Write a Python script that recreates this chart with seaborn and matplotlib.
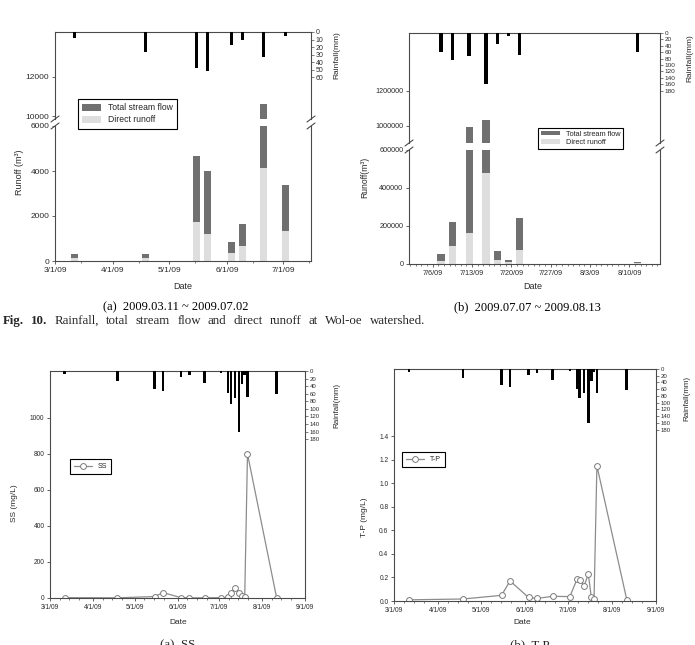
# %%
import pandas as pd
import numpy as np
import matplotlib
matplotlib.use('Agg')
import matplotlib.pyplot as plt
import matplotlib.dates as mdates
import seaborn as sns

sns.set_style('ticks')
plt.rcParams['font.family'] = ['Liberation Sans', 'DejaVu Sans']

# %% event dates (rainfall / sampling)
event_dates = ['2009-03-11', '2009-04-18', '2009-05-15', '2009-05-21', '2009-06-03',
               '2009-06-09', '2009-06-20', '2009-07-02', '2009-07-07', '2009-07-09',
               '2009-07-12', '2009-07-15', '2009-07-17', '2009-07-19', '2009-07-21',
               '2009-08-11']
rain_mm = [8, 26, 48, 52, 17, 11, 33, 5, 59, 86, 72, 160, 35, 10, 70, 61]

# runoff (m3), period (a) 2009.03.11 ~ 2009.07.02
total_flow_a = [300, 300, 4650, 4000, 830, 1660, 10630, 3360]
direct_runoff_a = [130, 120, 1750, 1190, 340, 670, 4120, 1330]
# runoff (m3), period (b) 2009.07.07 ~ 2009.08.13
total_flow_b = [52000, 222000, 990000, 1033000, 69000, 21000, 240000, 8000]
direct_runoff_b = [15000, 97000, 162000, 478000, 22000, 10000, 75000, 3000]

# water quality (mg/L)
ss_mgl = [2, 1, 8, 30, 2, 1, 1, 2, 3, 30, 55, 30, 10, 3, 800, 2]
tp_mgl = [0.010, 0.017, 0.048, 0.170, 0.030, 0.022, 0.040, 0.037,
          0.184, 0.178, 0.130, 0.226, 0.037, 0.020, 1.148, 0.010]

caption_words = ['Fig.', '10.', 'Rainfall,', 'total', 'stream', 'flow', 'and', 'direct',
                 'runoff', 'at', 'Wol-oe', 'watershed.']

# %%
ev = pd.DataFrame({'date': pd.to_datetime(event_dates), 'rain': rain_mm,
                   'ss': ss_mgl, 'tp': tp_mgl})
ev['x'] = ev['date'] + pd.Timedelta(hours=12)
per_a = ev[ev['date'] <= '2009-07-02'].copy()
per_a['total'] = total_flow_a
per_a['direct'] = direct_runoff_a
per_b = ev[ev['date'] >= '2009-07-07'].copy()
per_b['total'] = total_flow_b
per_b['direct'] = direct_runoff_b

W, H = 695, 645
fig = plt.figure(figsize=(W / 100, H / 100), dpi=100)

DARK = '#707070'
LIGHT = '#dedede'
EDGE = '#4a4a4a'
TXT = '#2a2a2a'
SERIF = ['Liberation Serif', 'DejaVu Serif']


def px(l, t, r, b):
    return [l / W, 1 - b / H, (r - l) / W, (b - t) / H]


def style(ax, size):
    for s in ax.spines.values():
        s.set_color(EDGE)
        s.set_linewidth(0.8)
    ax.tick_params(direction='out', length=2.5, width=0.6, colors=EDGE,
                   labelcolor=TXT, labelsize=size, pad=1.5)
    ax.tick_params(which='minor', direction='out', length=1.5, width=0.5, colors=EDGE)


def rain_axes(box, data, xlim, ymax, ticks, width, size):
    ax = fig.add_axes(box)
    ax.patch.set_visible(False)
    ax.bar(data['x'], data['rain'], width=width, color='black', linewidth=0)
    ax.set_xlim(xlim)
    ax.set_ylim(ymax, 0)
    ax.yaxis.tick_right()
    ax.set_yticks(ticks)
    ax.set_xticks([])
    for s in ax.spines.values():
        s.set_visible(False)
    ax.tick_params(axis='y', direction='out', length=2, width=0.5, colors=EDGE,
                   labelcolor=TXT, labelsize=size, pad=1.5)
    return ax


def break_marks(ax, y):
    bb = ax.get_position()
    dx = 4 / (bb.width * W)
    dy = 3 / (bb.height * H)
    for x in (0, 1):
        ax.plot([x - dx, x + dx], [y - dy, y + dy], transform=ax.transAxes,
                color=EDGE, lw=0.8, clip_on=False)


def runoff_panel(data, box_up, box_low, xlim, ylim_up, ylim_low, yt_up, yt_low, width, size):
    up = fig.add_axes(box_up)
    low = fig.add_axes(box_low)
    for ax in (up, low):
        ax.bar(data['x'], data['total'], width=width, color=DARK, linewidth=0,
               label='Total stream flow')
        ax.bar(data['x'], data['direct'], width=width, color=LIGHT, linewidth=0,
               label='Direct runoff')
        ax.set_xlim(xlim)
        ax.yaxis.set_major_formatter(plt.FormatStrFormatter('%d'))
        style(ax, size)
    up.set_ylim(ylim_up)
    low.set_ylim(ylim_low)
    up.set_yticks(yt_up)
    low.set_yticks(yt_low)
    up.spines['bottom'].set_visible(False)
    low.spines['top'].set_visible(False)
    up.tick_params(axis='x', which='both', bottom=False, labelbottom=False)
    up.set_xticks([])
    break_marks(up, 0)
    break_marks(low, 1)
    return up, low


# %% (a) 2009.03.11 ~ 2009.07.02
xlim_a = (pd.Timestamp('2009-03-01'), pd.Timestamp('2009-07-16'))
up_a, low_a = runoff_panel(per_a, px(55, 32, 311, 119), px(55, 126, 311, 261), xlim_a,
                           (9850, 14300), (0, 6000), [10000, 12000],
                           [0, 2000, 4000, 6000], 3.7, 6)
low_a.xaxis.set_major_locator(mdates.MonthLocator())
low_a.xaxis.set_minor_locator(mdates.DayLocator(bymonthday=15))
low_a.xaxis.set_major_formatter(mdates.DateFormatter('%-m/%-d/%y'))
rain_axes(px(55, 32, 311, 261), per_a, xlim_a, 305, range(0, 61, 10), 1.6, 5)
h, l = low_a.get_legend_handles_labels()
fig.legend(h, l, loc='upper left', bbox_to_anchor=(78 / W, 1 - 99 / H), fontsize=6.2,
           frameon=True, fancybox=False, edgecolor='black', framealpha=1,
           borderaxespad=0, handlelength=2.2, handleheight=0.9, labelspacing=0.35,
           borderpad=0.5).get_frame().set_linewidth(0.8)
fig.text(20 / W, 1 - 172 / H, 'Runoff (m³)', rotation=90, ha='center', va='center',
         fontsize=6.5, color=TXT)
fig.text(337 / W, 1 - 55 / H, 'Rainfall(mm)', rotation=90, ha='center', va='center',
         fontsize=6, color=TXT)
fig.text(183 / W, 1 - 286 / H, 'Date', ha='center', va='center', fontsize=6.5, color=TXT)

# %% (b) 2009.07.07 ~ 2009.08.13
xlim_b = (pd.Timestamp('2009-07-01 19:00'), pd.Timestamp('2009-08-15 11:00'))
up_b, low_b = runoff_panel(per_b, px(409, 33, 660, 143), px(409, 150, 660, 264), xlim_b,
                           (900000, 1532000), (0, 600000), [1000000, 1200000],
                           [0, 200000, 400000, 600000], 1.3, 5.2)
low_b.xaxis.set_major_locator(mdates.WeekdayLocator(byweekday=mdates.MO))
low_b.xaxis.set_minor_locator(mdates.DayLocator())
low_b.xaxis.set_major_formatter(mdates.DateFormatter('%-m/%-d/%y'))
rain_axes(px(409, 33, 660, 264), per_b, xlim_b, 723, range(0, 181, 20), 0.6, 4.6)
h, l = low_b.get_legend_handles_labels()
fig.legend(h, l, loc='upper left', bbox_to_anchor=(538 / W, 1 - 128 / H), fontsize=5.3,
           frameon=True, fancybox=False, edgecolor='black', framealpha=1,
           borderaxespad=0, handlelength=2.6, handleheight=0.6, labelspacing=0.2,
           borderpad=0.35).get_frame().set_linewidth(0.8)
fig.text(365 / W, 1 - 177 / H, 'Runoff(m³)', rotation=90, ha='center', va='center',
         fontsize=6.2, color=TXT)
fig.text(690 / W, 1 - 58 / H, 'Rainfall(mm)', rotation=90, ha='center', va='center',
         fontsize=6, color=TXT)
fig.text(533 / W, 1 - 286 / H, 'Date', ha='center', va='center', fontsize=6.5, color=TXT)


# %% (a) SS  /  (b) T-P
def quality_panel(box, col, label, ylim, yticks, fmt, ylab, ylab_xy, rain_max, leg_xy):
    xlim = (pd.Timestamp('2009-03-01'), pd.Timestamp('2009-09-01'))
    ax = fig.add_axes(box)
    sns.lineplot(x=ev['x'], y=ev[col], ax=ax, color='#8c8c8c', lw=0.9, marker='o',
                 markersize=4.2, markerfacecolor='white', markeredgecolor='#7a7a7a',
                 markeredgewidth=0.7, label=label, legend=False)
    ax.set_xlim(xlim)
    ax.set_ylim(ylim)
    ax.set_yticks(yticks)
    ax.yaxis.set_major_formatter(plt.FormatStrFormatter(fmt))
    ax.xaxis.set_major_locator(mdates.MonthLocator())
    ax.xaxis.set_minor_locator(mdates.DayLocator(bymonthday=[8, 15, 22]))
    ax.xaxis.set_major_formatter(mdates.DateFormatter('%-m/%-d/%y'))
    ax.set_xlabel('')
    ax.set_ylabel('')
    style(ax, 4.8)
    rain_axes(box, ev, xlim, rain_max, range(0, 181, 20), 1.9, 4.3)
    leg = ax.legend(loc='upper left', bbox_to_anchor=leg_xy, bbox_transform=fig.transFigure,
                    fontsize=5, frameon=True, fancybox=False, edgecolor='black',
                    framealpha=1, borderaxespad=0, handlelength=2.6, borderpad=0.6)
    leg.get_frame().set_linewidth(0.8)
    fig.text(ylab_xy[0] / W, 1 - ylab_xy[1] / H, ylab, rotation=90, ha='center',
             va='center', fontsize=6, color=TXT)
    return ax


quality_panel(px(50, 371, 305, 598), 'ss', 'SS', (0, 1260), range(0, 1001, 200), '%d',
              'SS (mg/L)', (15, 503), 600, (70 / W, 1 - 459 / H))
fig.text(337 / W, 1 - 405 / H, 'Rainfall(mm)', rotation=90, ha='center', va='center',
         fontsize=5.8, color=TXT)
fig.text(178 / W, 1 - 623 / H, 'Date', ha='center', va='center', fontsize=6, color=TXT)

quality_panel(px(394, 369, 656, 601), 'tp', 'T-P', (0, 1.97), np.arange(0, 1.41, 0.2),
              '%.1f', 'T-P (mg/L)', (365, 517), 688, (402 / W, 1 - 452 / H))
fig.text(687 / W, 1 - 398 / H, 'Rainfall(mm)', rotation=90, ha='center', va='center',
         fontsize=5.8, color=TXT)
fig.text(522 / W, 1 - 623 / H, 'Date', ha='center', va='center', fontsize=6, color=TXT)

# %% captions
fig.text(176 / W, 1 - 307 / H, '(a)  2009.03.11 ~ 2009.07.02', ha='center', va='center',
         fontsize=9, family=SERIF, color='black')
fig.text(527 / W, 1 - 307 / H, '(b)  2009.07.07 ~ 2009.08.13', ha='center', va='center',
         fontsize=9, family=SERIF, color='black')

# justified caption line between x=3 and x=425 px
renderer = fig.canvas.get_renderer()
texts = []
for i, w_ in enumerate(caption_words):
    t = fig.text(0, 1 - 321 / H, w_, ha='left', va='center', fontsize=9.3, family=SERIF,
                 weight='bold' if i < 2 else 'normal')
    texts.append(t)
widths = [t.get_window_extent(renderer).width for t in texts]
gap = (425 - 3 - sum(widths)) / (len(texts) - 1)
x_ = 3
for t, w_ in zip(texts, widths):
    t.set_x(x_ / W)
    x_ += w_ + gap

fig.text(178 / W, 1 - 639 / H, '(a)  SS', ha='center', va='top', fontsize=9.3, family=SERIF)
fig.text(530 / W, 1 - 639 / H, '(b)  T-P', ha='center', va='top', fontsize=9.3, family=SERIF)

fig.savefig('out.png', dpi=100, facecolor='white')
